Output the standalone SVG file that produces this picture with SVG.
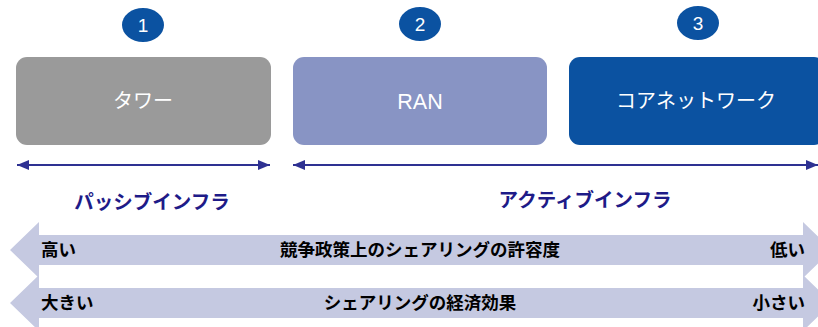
<svg xmlns="http://www.w3.org/2000/svg" width="818" height="327" viewBox="0 0 818 327">
<defs>
<style>
.jp{font-family:"Liberation Sans","Noto Sans CJK JP",sans-serif;}
.num{font-family:"Liberation Sans",sans-serif;font-size:19px;fill:#fff;text-anchor:middle;}
.box-t{font-size:20px;fill:#fff;text-anchor:middle;}
.head{font-size:19.5px;font-weight:bold;fill:#1e1b88;text-anchor:middle;}
.band{fill:#c5c9e1;}
.bt{font-size:17.5px;font-weight:bold;fill:#000;}
.conn{stroke:#2e3192;stroke-width:2;fill:none;}
</style>
<marker id="ah" viewBox="0 0 12 10" refX="12" refY="5" markerWidth="12" markerHeight="10" markerUnits="userSpaceOnUse" orient="auto-start-reverse">
<path d="M0,0 L12,5 L0,10 Z" fill="#2e3192"/>
</marker>
</defs>
<rect width="818" height="327" fill="#fff"/>

<g id="badge1"><ellipse cx="143" cy="25" rx="21" ry="17" fill="#0b52a1"/><text class="num" x="143" y="32">1</text></g>
<g id="badge2"><ellipse cx="420" cy="24" rx="21" ry="17" fill="#0b52a1"/><text class="num" x="420" y="31">2</text></g>
<g id="badge3"><ellipse cx="698" cy="23" rx="21" ry="17" fill="#0b52a1"/><text class="num" x="698" y="30">3</text></g>

<g id="tower"><rect x="16" y="57" width="255" height="88" rx="11" fill="#9a9a9a"/><text class="jp box-t" x="143" y="108">タワー</text></g>
<g id="ran"><rect x="293" y="57" width="254" height="88" rx="11" fill="#8894c4"/><text class="jp box-t" x="420" y="109" style="font-size:21.5px">RAN</text></g>
<g id="core"><rect x="569" y="57" width="256" height="88" rx="11" fill="#0b52a1"/><text class="jp box-t" x="696" y="108">コアネットワーク</text></g>

<g id="connectors">
<line class="conn" x1="17" y1="165" x2="270" y2="165" marker-start="url(#ah)" marker-end="url(#ah)"/>
<line class="conn" x1="293" y1="165" x2="818" y2="165" marker-start="url(#ah)" marker-end="url(#ah)"/>
</g>

<g id="passive"><text class="jp head" x="152" y="209">パッシブインフラ</text></g>
<g id="active"><text class="jp head" x="585" y="207">アクティブインフラ</text></g>

<g id="band1">
<polygon class="band" points="10,250 39,222 39,235 803,235 803,222 832,250 803,278 803,265 39,265 39,278"/>
<text class="jp bt" x="41" y="256">高い</text>
<text class="jp bt" x="420" y="256" text-anchor="middle">競争政策上のシェアリングの許容度</text>
<text class="jp bt" x="805" y="256" text-anchor="end">低い</text>
</g>
<g id="band2">
<polygon class="band" points="10,303 39,275 39,288 803,288 803,275 832,303 803,331 803,318 39,318 39,331"/>
<text class="jp bt" x="41" y="309">大きい</text>
<text class="jp bt" x="420" y="309" text-anchor="middle">シェアリングの経済効果</text>
<text class="jp bt" x="805" y="309" text-anchor="end">小さい</text>
</g>
</svg>
